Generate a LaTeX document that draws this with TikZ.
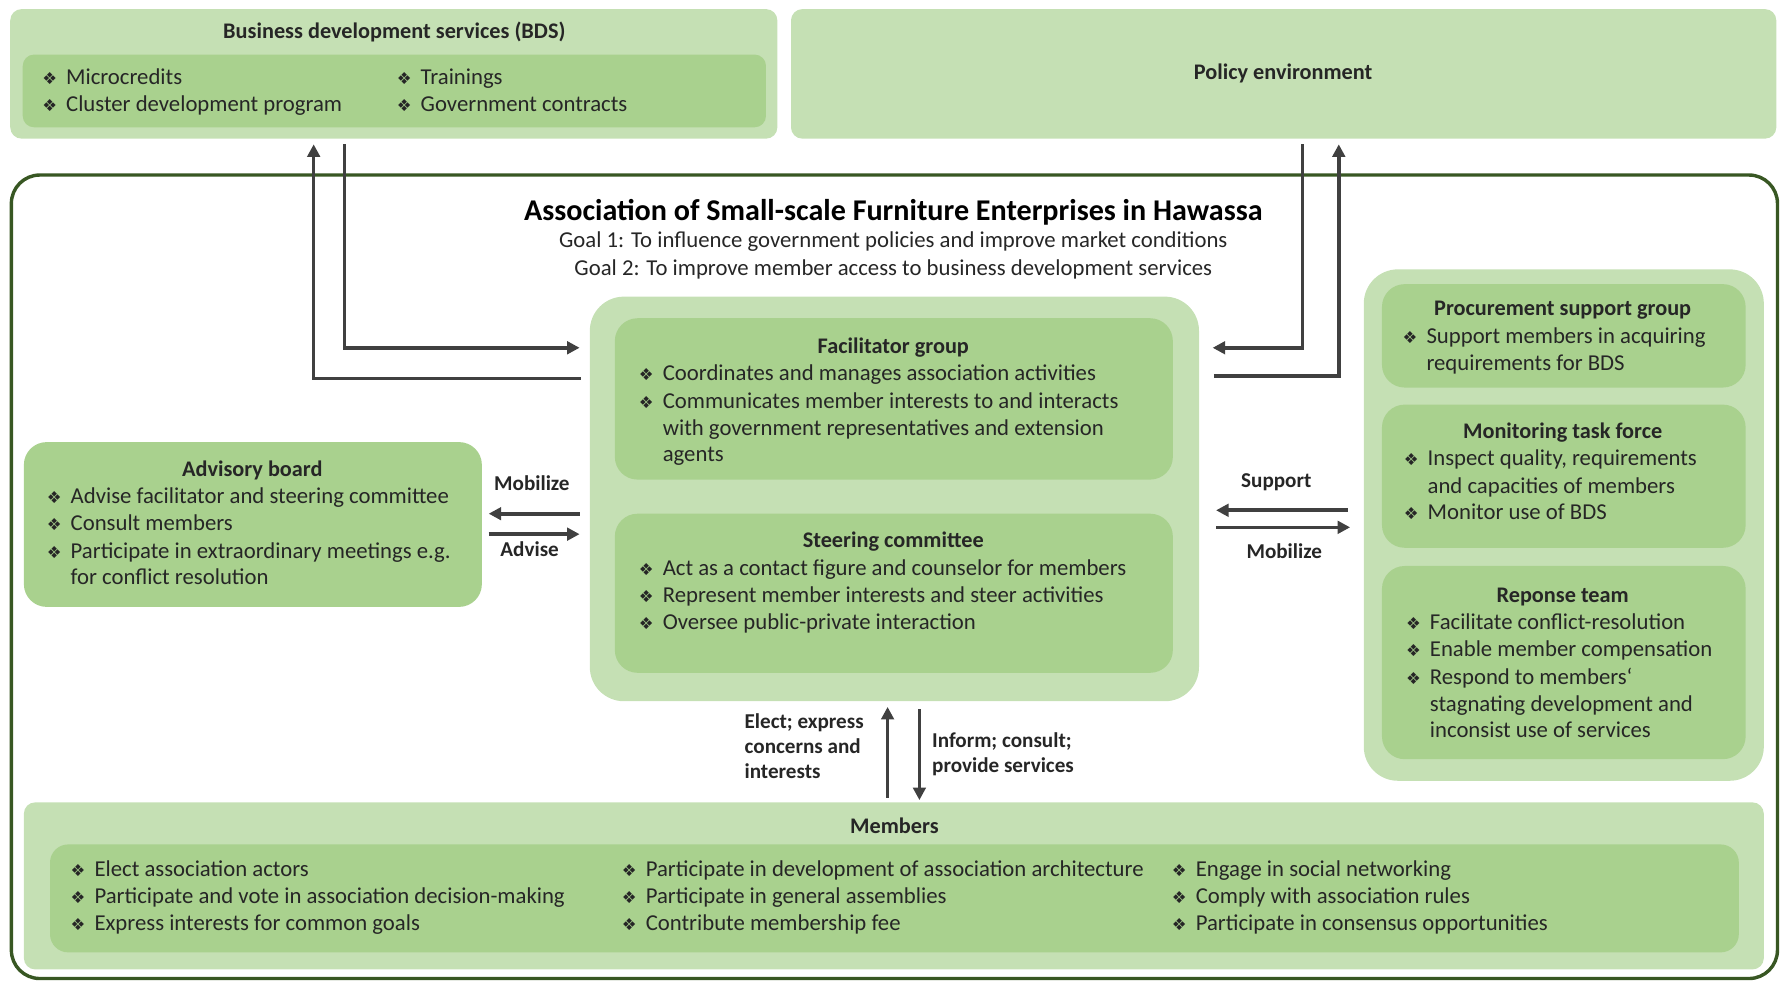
\documentclass[tikz,border=0pt]{standalone}
\usepackage{fontspec}
\setmainfont{Carlito}
\newfontfamily\djv{DejaVu Sans}
\usetikzlibrary{arrows.meta,fit}
\definecolor{lg}{HTML}{C5E0B4}
\definecolor{mg}{HTML}{A9D18E}
\definecolor{dg}{HTML}{385723}
\definecolor{ag}{HTML}{404040}
\definecolor{tx}{HTML}{262626}
\newcommand\bul{\makebox[21pt][l]{\djv\fontsize{14.5}{14.5}\selectfont ❖}}
\tikzset{
 outerbox/.style={fill=lg, draw=none, rounded corners=10pt, inner sep=0pt},
 innerbox/.style={fill=mg, draw=none, rounded corners=14pt, inner sep=0pt},
 txt/.style={inner sep=0pt, anchor=base west, text=tx, font=\fontsize{20}{24}\selectfont},
 ttl/.style={inner sep=0pt, anchor=base, text=tx, font=\bfseries\fontsize{19.6}{24}\selectfont},
 lbl/.style={inner sep=0pt, text=tx, font=\bfseries\fontsize{18.6}{22}\selectfont},
 arr/.style={draw=ag, line width=3.2pt, -{Triangle[length=11pt,width=11pt]}},
}
\begin{document}
\begin{tikzpicture}[x=1pt,y=-1pt]
\useasboundingbox (0,0) rectangle (1568,863);
% top boxes
\node[outerbox, fit={(9,8) (684,122)}] (bds) {};
\node[innerbox, rounded corners=10pt, fit={(20,48) (674,112)}] (bdsin) {};
\node[ttl] (bdst) at (347,34) {Business development services (BDS)};
\node[txt] (bds1) at (37,74) {\bul Microcredits};
\node[txt] (bds2) at (37,98) {\bul Cluster development program};
\node[txt] (bds3) at (349,74) {\bul Trainings};
\node[txt] (bds4) at (349,98) {\bul Government contracts};
\node[outerbox, fit={(696,8) (1563,122)}] (pol) {};
\node[ttl] (polt) at (1129,70) {Policy environment};
% association frame
\node[draw=dg, line width=3pt, rounded corners=25pt, inner sep=0pt, fit={(10,154) (1564,861)}] (assoc) {};
\node[inner sep=0pt, anchor=base, text=black, font=\bfseries\fontsize{26.5}{30}\selectfont] (asst) at (786,194) {Association of Small-scale Furniture Enterprises in Hawassa};
\node[ttl, font=\fontsize{20}{24}\selectfont] (goal1) at (786,218) {Goal 1: To influence government policies and improve market conditions};
\node[ttl, font=\fontsize{20}{24}\selectfont] (goal2) at (786,242) {Goal 2: To improve member access to business development services};
% central
\node[outerbox, rounded corners=30pt, fit={(519,261) (1055,617)}] (cen) {};
\node[innerbox, rounded corners=20pt, fit={(541,280) (1032,422)}] (fac) {};
\node[ttl] (fact) at (786,311) {Facilitator group};
\node[txt] (fac1) at (562,335) {\bul Coordinates and manages association activities};
\node[txt] (fac2) at (562,359) {\bul Communicates member interests to and interacts};
\node[txt] (fac3) at (583,383) {with government representatives and extension};
\node[txt] (fac4) at (583,406) {agents};
\node[innerbox, rounded corners=20pt, fit={(541,452) (1032,592)}] (ste) {};
\node[ttl] (stet) at (786,482) {Steering committee};
\node[txt] (ste1) at (562,506) {\bul Act as a contact figure and counselor for members};
\node[txt] (ste2) at (562,530) {\bul Represent member interests and steer activities};
\node[txt] (ste3) at (562,554) {\bul Oversee public-private interaction};
% advisory
\node[innerbox, rounded corners=20pt, fit={(21,389) (424,534)}] (adv) {};
\node[ttl] (advt) at (222,419) {Advisory board};
\node[txt] (adv1) at (41,443) {\bul Advise facilitator and steering committee};
\node[txt] (adv2) at (41,467) {\bul Consult members};
\node[txt] (adv3) at (41,491) {\bul Participate in extraordinary meetings e.g.};
\node[txt] (adv4) at (62,514) {for conflict resolution};
% right column
\node[outerbox, rounded corners=30pt, fit={(1200,237) (1552,687)}] (rc) {};
\node[innerbox, rounded corners=20pt, fit={(1216,250) (1536,341)}] (pro) {};
\node[ttl] (prot) at (1375,278) {Procurement support group};
\node[txt] (pro1) at (1234,302) {\bul Support members in acquiring};
\node[txt] (pro2) at (1255,326) {requirements for BDS};
\node[innerbox, rounded corners=20pt, fit={(1216,356) (1536,482)}] (mon) {};
\node[ttl] (mont) at (1375,386) {Monitoring task force};
\node[txt] (mon1) at (1235,410) {\bul Inspect quality, requirements};
\node[txt] (mon2) at (1256,434) {and capacities of members};
\node[txt] (mon3) at (1235,457) {\bul Monitor use of BDS};
\node[innerbox, rounded corners=20pt, fit={(1216,498) (1536,668)}] (res) {};
\node[ttl] (rest) at (1375,530) {Reponse team};
\node[txt] (res1) at (1237,554) {\bul Facilitate conflict-resolution};
\node[txt] (res2) at (1237,578) {\bul Enable member compensation};
\node[txt] (res3) at (1237,602) {\bul Respond to members‘};
\node[txt] (res4) at (1258,626) {stagnating development and};
\node[txt] (res5) at (1258,649) {inconsist use of services};
% members
\node[outerbox, fit={(21,706) (1552,853)}] (mem) {};
\node[innerbox, rounded corners=16pt, fit={(44,743) (1530,838)}] (memin) {};
\node[ttl] (memt) at (787,733) {Members};
\node[txt] (m1) at (62,771) {\bul Elect association actors};
\node[txt] (m2) at (62,795) {\bul Participate and vote in association decision-making};
\node[txt] (m3) at (62,819) {\bul Express interests for common goals};
\node[txt] (m4) at (547,771) {\bul Participate in development of association architecture};
\node[txt] (m5) at (547,795) {\bul Participate in general assemblies};
\node[txt] (m6) at (547,819) {\bul Contribute membership fee};
\node[txt] (m7) at (1031,771) {\bul Engage in social networking};
\node[txt] (m8) at (1031,795) {\bul Comply with association rules};
\node[txt] (m9) at (1031,819) {\bul Participate in consensus opportunities};
% arrow end points
\coordinate (b1s) at (511,333); \coordinate (b1e) at (276,127);
\coordinate (b2s) at (303,127); \coordinate (b2e) at (510,306);
\coordinate (p1s) at (1146,127); \coordinate (p1e) at (1067,306);
\coordinate (p2s) at (1068,331); \coordinate (p2e) at (1178,127);
\coordinate (l1s) at (510,452); \coordinate (l1e) at (430,452);
\coordinate (l2s) at (430,470); \coordinate (l2e) at (510,470);
\coordinate (r1s) at (1186,449); \coordinate (r1e) at (1070,449);
\coordinate (r2s) at (1070,464); \coordinate (r2e) at (1188,464);
\coordinate (v1s) at (781,702); \coordinate (v1e) at (781,622);
\coordinate (v2s) at (809,624); \coordinate (v2e) at (809,704);
\draw[arr] (b1s) -| (b1e);
\draw[arr] (b2s) |- (b2e);
\draw[arr] (p1s) |- (p1e);
\draw[arr] (p2s) -| (p2e);
\draw[arr] (l1s) -- (l1e);
\draw[arr] (l2s) -- (l2e);
\draw[arr] (r1s) -- (r1e);
\draw[arr] (r2s) -- (r2e);
\draw[arr] (v1s) -- (v1e);
\draw[arr] (v2s) -- (v2e);
% arrow labels
\node[lbl, anchor=base] (lmob) at (468,432) {Mobilize};
\node[lbl, anchor=base] (ladv) at (466,490) {Advise};
\node[lbl, anchor=base] (rsup) at (1123,429) {Support};
\node[lbl, anchor=base] (rmob) at (1130,491) {Mobilize};
\node[lbl, anchor=base west] (el1) at (655,641) {Elect; express};
\node[lbl, anchor=base west] (el2) at (655,663) {concerns and};
\node[lbl, anchor=base west] (el3) at (655,685) {interests};
\node[lbl, anchor=base west] (in1) at (820,658) {Inform; consult;};
\node[lbl, anchor=base west] (in2) at (820,680) {provide services};
\end{tikzpicture}
\end{document}
